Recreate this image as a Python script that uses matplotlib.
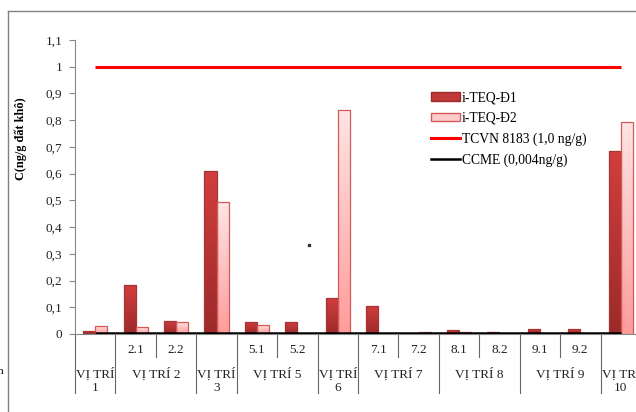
import numpy as np
import matplotlib
matplotlib.use("Agg")
import matplotlib.pyplot as plt
from matplotlib.colors import LinearSegmentedColormap
from matplotlib.lines import Line2D
from matplotlib.patches import Patch
from matplotlib.transforms import blended_transform_factory

plt.rcParams["font.family"] = ["Liberation Serif", "DejaVu Serif"]

# sample points along the x axis
samples = ["1", "2.1", "2.2", "3", "5.1", "5.2", "6", "7.1", "7.2",
           "8.1", "8.2", "9.1", "9.2", "10"]
sub_labels = ["", "2.1", "2.2", "", "5.1", "5.2", "", "7.1", "7.2",
              "8.1", "8.2", "9.1", "9.2", ""]
group_labels = ["VỊ TRÍ\n1", "VỊ TRÍ 2", "VỊ TRÍ\n3", "VỊ TRÍ 5", "VỊ TRÍ\n6",
                "VỊ TRÍ 7", "VỊ TRÍ 8", "VỊ TRÍ 9", "VỊ TRÍ\n10"]
group_sizes = [1, 2, 1, 2, 1, 2, 2, 2, 1]

teq_d1 = [0.012, 0.182, 0.049, 0.610, 0.046, 0.044, 0.136, 0.106, 0.0,
          0.015, 0.009, 0.020, 0.018, 0.686]
teq_d2 = [0.030, 0.025, 0.045, 0.493, 0.035, 0.0, 0.838, 0.0, 0.006,
          0.009, 0.0, 0.0, 0.0, 0.794]
tcvn_limit = 1.0
ccme_limit = 0.004

y_ticks = [0, 0.1, 0.2, 0.3, 0.4, 0.5, 0.6, 0.7, 0.8, 0.9, 1, 1.1]

fig = plt.figure(figsize=(6.36, 4.12), dpi=100)
ax = fig.add_axes([75 / 636, 78 / 412, 566 / 636, 294 / 412])

cmap_d1 = LinearSegmentedColormap.from_list("d1", ["#9c2a2a", "#d23e3e"])
cmap_d2 = LinearSegmentedColormap.from_list("d2", ["#ff9c9c", "#ffe4e4"])
grad = np.linspace(0, 1, 64).reshape(-1, 1)

x = np.arange(len(samples))
w = 0.3
fs = 9.5


def gradient_bars(xs, vals, cmap, edge):
    bars = ax.bar(xs, vals, w, color="none", edgecolor=edge, linewidth=0.9,
                  zorder=3)
    for b, v in zip(bars, vals):
        if v <= 0:
            continue
        x0 = b.get_x()
        im = ax.imshow(grad, cmap=cmap, origin="lower", aspect="auto",
                       extent=[x0, x0 + w, 0, v], zorder=2,
                       interpolation="bilinear")
        im.set_clip_path(b)


gradient_bars(x - w / 2, teq_d1, cmap_d1, "#a83434")
gradient_bars(x + w / 2, teq_d2, cmap_d2, "#d45a5a")

ax.plot([x[0], x[-1]], [tcvn_limit, tcvn_limit], color="#ff0000", lw=2.2,
        solid_capstyle="butt", zorder=4)
ax.plot([x[0], x[-1]], [ccme_limit, ccme_limit], color="black", lw=1.8,
        solid_capstyle="butt", zorder=4)

ax.set_xlim(-0.5, len(samples) - 0.5)
ax.set_ylim(0, 1.1)
ax.set_yticks(y_ticks)
ax.set_yticklabels([("%g" % t).replace(".", ",") for t in y_ticks],
                   fontsize=fs, color="#222222")
ax.tick_params(axis="y", length=4, color="#888888", pad=5)
ax.set_xticks([])
for s in ["top", "right"]:
    ax.spines[s].set_visible(False)
ax.spines["left"].set_color("#888888")
ax.spines["bottom"].set_color("#888888")
ax.spines["bottom"].set_linewidth(0.8)

# two-level category axis
trans = blended_transform_factory(ax.transData, ax.transAxes)
for i, lab in enumerate(sub_labels):
    if lab:
        ax.text(i, -0.053, lab, transform=trans, ha="center", va="center",
                fontsize=fs, color="#222222")

edges = np.cumsum([0] + group_sizes) - 0.5
for i in range(len(samples) + 1):
    xe = i - 0.5
    depth = -0.2 if xe in edges else -0.078
    ax.add_line(Line2D([xe, xe], [0, depth], transform=trans, color="#666666",
                       lw=0.8, clip_on=False))

for lab, a, b in zip(group_labels, edges[:-1], edges[1:]):
    ax.text((a + b) / 2, -0.113, lab, transform=trans, ha="center", va="top",
            fontsize=fs, color="#222222", linespacing=1.2)

fig.text(21 / 636, 1 - 139 / 412, "C(ng/g đất khô)", rotation=90,
         ha="center", va="center", fontsize=8.8, fontweight="bold")

handles = [
    Patch(facecolor="#c03838", edgecolor="#9c2a2a", label="i-TEQ-Đ1"),
    Patch(facecolor="#ffcccc", edgecolor="#d45a5a", label="i-TEQ-Đ2"),
    Line2D([], [], color="#ff0000", lw=2.2, label="TCVN 8183 (1,0 ng/g)"),
    Line2D([], [], color="black", lw=1.8, label="CCME (0,004ng/g)"),
]
fig.legend(handles=handles, loc="upper left",
           bbox_to_anchor=(424 / 636, 1 - 84.5 / 412), frameon=False,
           fontsize=9.8, handlelength=2.15, handleheight=0.55,
           handletextpad=0.15, labelspacing=0.55, borderpad=0)

# outer frame
fig.add_artist(Line2D([8 / 636, 1], [1 - 11 / 412, 1 - 11 / 412],
                      color="#808080", lw=1))
fig.add_artist(Line2D([8 / 636, 8 / 636], [0, 1 - 11 / 412],
                      color="#808080", lw=1))
fig.add_artist(Line2D([309 / 636], [1 - 245 / 412], marker="s", ms=1.5,
                      color="#333333", lw=0))
fig.text(-0.003, 1 - 372 / 412, "n", fontsize=8, ha="left", va="center")

fig.savefig("out.png", dpi=100)
